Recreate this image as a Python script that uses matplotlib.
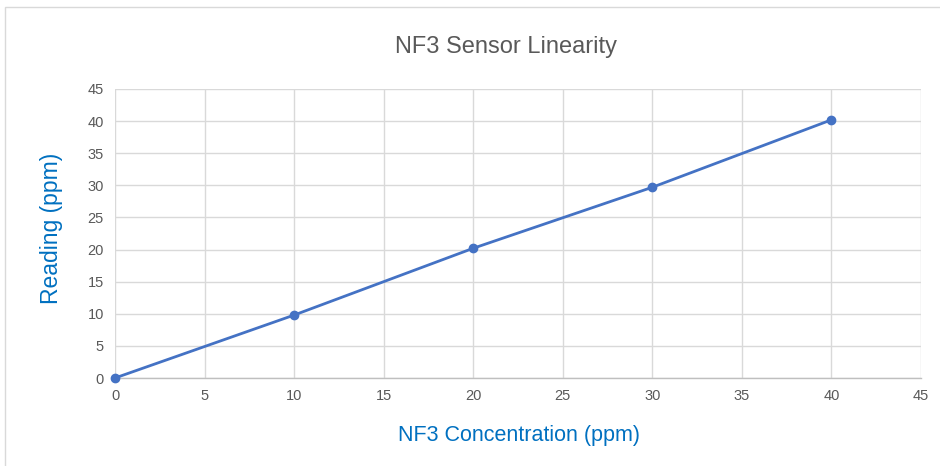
import matplotlib
matplotlib.use("Agg")
import matplotlib.pyplot as plt
from matplotlib.patches import Rectangle

concentration = [0, 10, 20, 30, 40]
reading = [0, 9.8, 20.2, 29.7, 40.2]
x_ticks = [0, 5, 10, 15, 20, 25, 30, 35, 40, 45]
y_ticks = [0, 5, 10, 15, 20, 25, 30, 35, 40, 45]

plt.rcParams['font.family'] = ['Liberation Sans', 'DejaVu Sans']

W, H = 940, 466
fig = plt.figure(figsize=(9.4, 4.66), dpi=100)
fig.patches.append(Rectangle((5/W, -0.01), 1.0, 1 - 7/H + 0.01, transform=fig.transFigure,
                             fill=False, edgecolor='#D9D9D9', linewidth=1.0))
ax = fig.add_axes([115/W, 1 - 378/H, (921 - 115)/W, (378 - 89)/H])

ax.plot(concentration, reading, color='#4472C4', linewidth=2, marker='o', markersize=6, zorder=3, clip_on=False)

ax.set_xlim(0, 45)
ax.set_ylim(0, 45)
ax.set_xticks(x_ticks)
ax.set_yticks(y_ticks)
ax.grid(True, color='#D9D9D9', linewidth=1)
ax.set_axisbelow(True)
for s in ['top', 'right', 'left']:
    ax.spines[s].set_visible(False)
ax.spines['bottom'].set_color('#BFBFBF')
ax.spines['bottom'].set_linewidth(1)
ax.tick_params(length=0, labelsize=10.5, labelcolor='#595959', pad=8)

fig.text(506/W, 1 - 47/H, 'NF3 Sensor Linearity', fontsize=17, color='#595959', ha='center', va='center')
fig.text(519/W, 1 - 436/H, 'NF3 Concentration (ppm)', fontsize=15.5, color='#0070C0', ha='center', va='center')
fig.text(52/W, 1 - 228/H, 'Reading (ppm)', fontsize=16.5, color='#0070C0', ha='center', va='center', rotation=90)

fig.savefig('out.png', dpi=100)
